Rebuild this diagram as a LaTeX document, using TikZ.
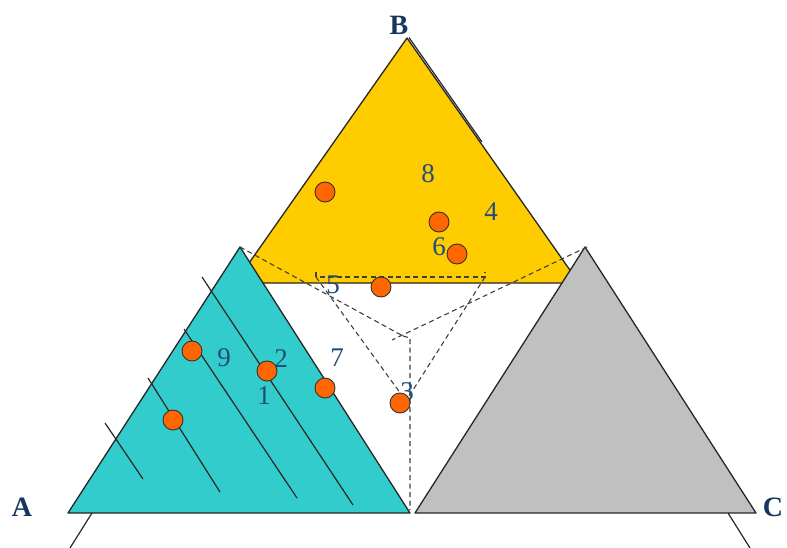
\documentclass[tikz,border=0pt]{standalone}
\usepackage{fontspec}
\setmainfont{Liberation Serif}
\usepackage{xcolor}
\usetikzlibrary{positioning}
\definecolor{tealface}{HTML}{33CCCC}
\definecolor{goldface}{HTML}{FFCC00}
\definecolor{greyface}{HTML}{C0C0C0}
\definecolor{dotorange}{HTML}{FF6600}
\definecolor{numblue}{HTML}{1F4E79}
\definecolor{cornerblue}{HTML}{17365D}
\tikzset{
  face/.style={draw=black!85, line width=1.3pt, line join=round},
  isoline/.style={draw=black!85, line width=1.2pt},
  guide/.style={draw=black!75, line width=1.1pt, dash pattern=on 5pt off 3.5pt},
  sample/.style={circle, fill=dotorange, draw=black!80, line width=0.9pt,
    minimum size=20pt, inner sep=0pt},
  num/.style={text=numblue, inner sep=0pt, font=\fontsize{27}{30}\selectfont},
  corner/.style={text=cornerblue, inner sep=0pt, font=\fontsize{28}{32}\selectfont\bfseries},
}

\begin{document}
\begin{tikzpicture}[x=1pt,y=-1pt]
\useasboundingbox (0,0) rectangle (787,548);
% B face, cut at the level of the lower apexes
\filldraw[goldface, face] (407,38) -- (579,283) -- (235,283) -- cycle;
\draw[isoline] (409,37.5) -- (482,142);
% A and C faces
\filldraw[tealface, face] (68,513) -- (240,247) -- (410,513) -- cycle;
\filldraw[greyface, face] (415,513) -- (585,247) -- (756,513) -- cycle;
% axis stubs below the base
\draw[isoline] (92,513) -- (70,548);
\draw[isoline] (728,513) -- (750,548);
% iso lines across A
\foreach \xs/\ys/\xe/\ye in {105/423/143/479, 148/378/220/492,
                             184/329/297/498, 202/277/353/505}{
  \draw[isoline] (\xs,\ys) -- (\xe,\ye);
}
% dashed projection
\coordinate (topA) at (240,247);
\coordinate (topC) at (587,247);
\coordinate (hub)  at (403,336);
\coordinate (drop) at (410,338);
\coordinate (foot) at (410,510);
\coordinate (hl)   at (316,277);
\coordinate (hr)   at (485,277);
\coordinate (low)  at (406,401);
\draw[guide] (topA) -- (hub);
\draw[guide] (topC) -- (392,340);
\draw[guide] (hub) -- (drop) -- (foot);
\draw[guide] ([yshift=5pt]hl) -- (hl) -- (hr) -- ([yshift=5pt]hr);
\draw[guide] (hl) -- (low);
\draw[guide] (hr) -- (low);
% numbers
\foreach \t/\x/\y in {8/428/174, 4/491/212, 6/439/247, 5/333/285, 9/224/358,
                      2/281/359, 1/264/396, 7/337/358, 3/407/392}{
  \node[num] (n\t) at (\x,\y) {\t};
}
% sample points
\foreach \x/\y [count=\i] in {325/192, 439/222, 457/254, 381/287, 192/351,
                              267/371, 325/388, 173/420, 400/403}{
  \node[sample] (dot\i) at (\x,\y) {};
}
% corner labels
\node[corner] (labA) at (22,507) {A};
\node[corner] (labB) at (399,25) {B};
\node[corner] (labC) at (773,507) {C};
\end{tikzpicture}
\end{document}
